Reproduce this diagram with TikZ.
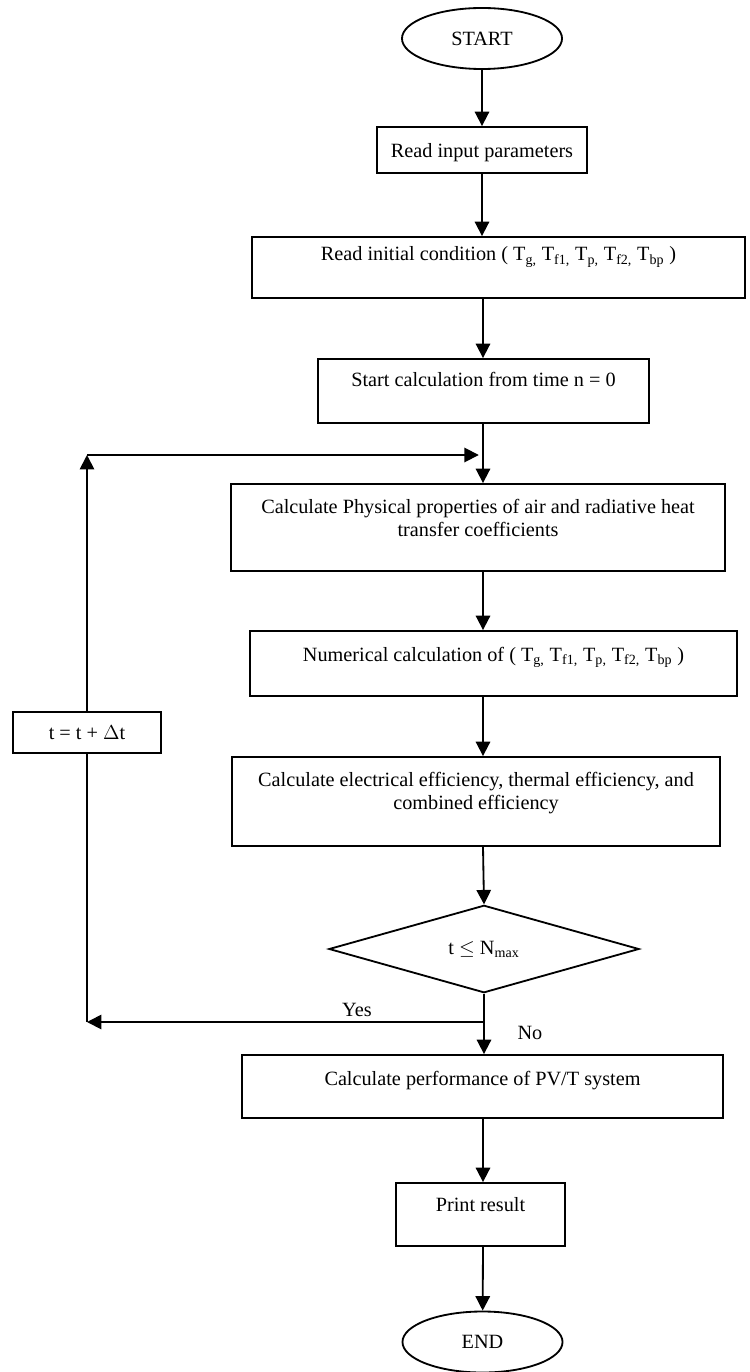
\documentclass[tikz,border=0pt]{standalone}
\usepackage{fontspec}
\setmainfont{Liberation Serif}
\usepackage{tikz}
\usetikzlibrary{arrows.meta}
\usetikzlibrary{shapes.geometric}

\begin{document}
\begin{tikzpicture}[x=0.025cm,y=-0.025cm,->,>={Triangle[length=3.6mm,width=3.6mm]},
                    line width=1.3pt,font=\fontsize{14.4}{16.3}\selectfont,
                    box/.style={rectangle,draw,inner sep=0pt,align=center,->},
                    term/.style={ellipse,draw,inner sep=0pt,minimum width=40mm,minimum height=15.25mm},
                    test/.style={diamond,draw,inner sep=0pt,minimum width=77.5mm,minimum height=20.5mm}]
    \useasboundingbox (0,0) rectangle (749,1372);
    \coordinate (axis) at (483,0);

    \node[term] (start) at (482,38.5) {START};
    \node[box,minimum width=52.5mm,text height=7.5mm,text depth=4mm] (readin) at (482,150) {Read input parameters};
    \node[box,minimum width=123.25mm,text height=6mm,text depth=9.25mm] (init) at (498.5,267.5)
        {Read initial condition ( T\textsubscript{g,} T\textsubscript{f1,} T\textsubscript{p,} T\textsubscript{f2,} T\textsubscript{bp} )};
    \node[box,minimum width=82.75mm,text height=6.75mm,text depth=9.25mm] (startcalc) at (483.5,391)
        {Start calculation from time n = 0};
    \node[box,minimum width=123.5mm,text height=13mm,text depth=8.75mm] (phys) at (478,527.5)
        {Calculate Physical properties of air and radiative heat\\ transfer coefficients};
    \node[box,minimum width=121.75mm,text height=7.5mm,text depth=8.75mm] (num) at (493.5,663.5)
        {Numerical calculation of ( T\textsubscript{g,} T\textsubscript{f1,} T\textsubscript{p,} T\textsubscript{f2,} T\textsubscript{bp} )};
    \node[box,minimum width=122mm,text height=13mm,text depth=9.25mm] (elec) at (476,801.5)
        {Calculate electrical efficiency, thermal efficiency, and\\ combined efficiency};
    \node[test] (check) at (484,949) {t $\leq$ N\textsubscript{max}};
    \node[box,minimum width=120.25mm,text height=7.5mm,text depth=8.25mm] (perf) at (482.5,1086.5)
        {Calculate performance of PV/T system};
    \node[box,minimum width=42.25mm,text height=7mm,text depth=8.75mm] (print) at (480.5,1214.5) {Print result};
    \node[term] (end) at (482.5,1342) {END};
    \node[box,minimum width=37mm,minimum height=10.25mm] (step) at (87,732.5) {t = t + $\Delta$t};

    \coordinate (looptop) at (87,455);
    \coordinate (loopjoin) at (axis |- looptop);
    \coordinate (yesjoin) at (484,1022);
    \coordinate (loopbot) at (87,1022);

    \path
        (start) edge (readin)
        (readin.south) edge (readin.south |- init.north)
        (axis |- init.south) edge (axis |- startcalc.north)
        (axis |- startcalc.south) edge (axis |- phys.north)
        (axis |- phys.south) edge (axis |- num.north)
        (axis |- num.south) edge (axis |- elec.north)
        (axis |- elec.south) edge (check.north)
        (check.south) edge node[pos=0.65,right,xshift=7mm] {No} (check.south |- perf.north)
        (axis |- perf.south) edge (axis |- print.north)
        (axis |- print.south) edge (end);

    % loop back
    \draw (yesjoin) -- node[above,pos=0.32] {Yes} (loopbot);
    \draw[-] (loopbot) -- (step.south);
    \draw (step.north) -- (looptop);
    \draw[shorten >=3pt] (looptop) -- (loopjoin);
\end{tikzpicture}
\end{document}
